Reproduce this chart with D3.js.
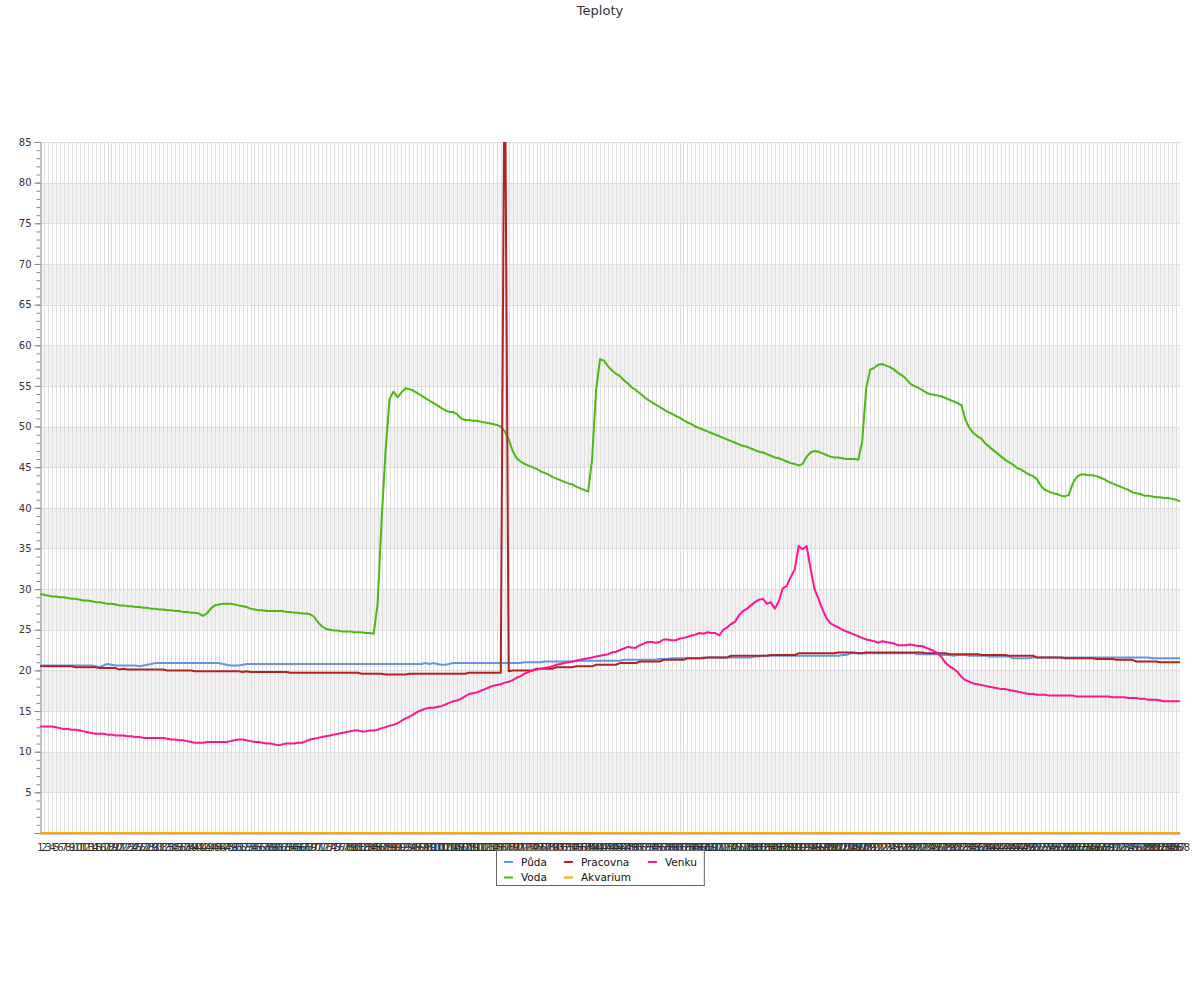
<!DOCTYPE html>
<html><head><meta charset="utf-8">
<script src="https://cdn.jsdelivr.net/npm/d3@7"></script>
<style>body{margin:0;background:#fff;}svg{display:block;font-family:"DejaVu Sans",sans-serif;}</style>
</head><body><svg id="c" width="1200" height="1000"></svg>
<script>
const title = "Teploty";
const categories = d3.range(1, 289).map(String);
const yTickValues = [0,5,10,15,20,25,30,35,40,45,50,55,60,65,70,75,80,85];

const puda = [
20.6,20.6,20.6,20.6,20.6,20.6,20.6,20.6,20.6,20.6,20.6,20.6,
20.6,20.6,20.5,20.4,20.6,20.8,20.7,20.6,20.6,20.6,20.6,20.6,
20.6,20.5,20.6,20.7,20.8,20.9,20.9,20.9,20.9,20.9,20.9,20.9,
20.9,20.9,20.9,20.9,20.9,20.9,20.9,20.9,20.9,20.9,20.8,20.7,
20.6,20.6,20.6,20.7,20.8,20.8,20.8,20.8,20.8,20.8,20.8,20.8,
20.8,20.8,20.8,20.8,20.8,20.8,20.8,20.8,20.8,20.8,20.8,20.8,
20.8,20.8,20.8,20.8,20.8,20.8,20.8,20.8,20.8,20.8,20.8,20.8,
20.8,20.8,20.8,20.8,20.8,20.8,20.8,20.8,20.8,20.8,20.8,20.8,
20.8,20.9,20.8,20.9,20.8,20.7,20.7,20.8,20.9,20.9,20.9,20.9,
20.9,20.9,20.9,20.9,20.9,20.9,20.9,20.9,20.9,20.9,20.9,20.9,
20.9,20.9,21.0,21.0,21.0,21.0,21.0,21.1,21.1,21.1,21.1,21.1,
21.1,21.1,21.1,21.2,21.2,21.2,21.2,21.2,21.2,21.2,21.2,21.2,
21.2,21.2,21.2,21.3,21.3,21.3,21.3,21.3,21.3,21.3,21.3,21.3,
21.4,21.4,21.4,21.5,21.5,21.5,21.5,21.5,21.5,21.5,21.5,21.6,
21.6,21.6,21.6,21.6,21.6,21.6,21.6,21.6,21.6,21.6,21.6,21.6,
21.7,21.7,21.8,21.8,21.8,21.8,21.8,21.8,21.8,21.8,21.8,21.8,
21.8,21.8,21.8,21.8,21.8,21.8,21.8,21.8,21.8,21.8,21.9,21.9,
22.1,22.1,22.1,22.1,22.1,22.1,22.1,22.1,22.1,22.1,22.1,22.1,
22.1,22.1,22.1,22.1,22.1,22.0,22.0,22.0,22.0,22.0,22.0,21.9,
21.9,21.9,21.8,21.9,21.9,21.9,21.8,21.8,21.8,21.8,21.8,21.7,
21.7,21.7,21.7,21.7,21.7,21.5,21.5,21.5,21.5,21.5,21.6,21.6,
21.6,21.6,21.6,21.6,21.6,21.6,21.6,21.6,21.6,21.6,21.6,21.6,
21.6,21.6,21.6,21.6,21.6,21.6,21.6,21.6,21.6,21.6,21.6,21.6,
21.6,21.6,21.6,21.6,21.5,21.5,21.5,21.5,21.5,21.5,21.5,21.5
];

const voda = [
29.4,29.3,29.2,29.1,29.1,29.0,29.0,28.9,28.8,28.8,28.7,28.6,
28.6,28.5,28.4,28.4,28.3,28.2,28.2,28.1,28.0,28.0,27.9,27.9,
27.8,27.8,27.7,27.7,27.6,27.6,27.5,27.5,27.4,27.4,27.3,27.3,
27.2,27.2,27.1,27.1,27.0,26.7,27.0,27.6,28.0,28.1,28.2,28.2,
28.2,28.1,28.0,27.9,27.8,27.6,27.5,27.4,27.4,27.3,27.3,27.3,
27.3,27.3,27.2,27.2,27.1,27.1,27.0,27.0,26.9,26.6,25.9,25.4,
25.1,25.0,24.9,24.9,24.8,24.8,24.8,24.7,24.7,24.7,24.6,24.6,
24.5,28.2,38.5,47.0,53.4,54.3,53.6,54.2,54.7,54.6,54.4,54.1,
53.8,53.5,53.2,52.9,52.6,52.3,52.0,51.8,51.8,51.5,51.0,50.8,
50.8,50.7,50.7,50.6,50.5,50.4,50.3,50.2,50.0,49.4,48.4,47.0,
46.1,45.7,45.4,45.2,45.0,44.8,44.5,44.3,44.1,43.8,43.6,43.4,
43.2,43.0,42.9,42.6,42.4,42.2,42.0,46.0,54.5,58.3,58.1,57.4,
56.9,56.5,56.2,55.7,55.3,54.8,54.5,54.1,53.7,53.3,53.0,52.7,
52.4,52.1,51.8,51.6,51.3,51.1,50.8,50.5,50.3,50.0,49.8,49.6,
49.4,49.2,49.0,48.8,48.6,48.4,48.2,48.0,47.8,47.6,47.5,47.3,
47.1,46.9,46.8,46.6,46.4,46.2,46.1,45.9,45.7,45.5,45.4,45.2,
45.4,46.3,46.8,47.0,46.9,46.7,46.5,46.3,46.2,46.2,46.1,46.0,
46.0,46.0,45.9,48.2,54.7,57.0,57.2,57.6,57.7,57.5,57.3,57.0,
56.6,56.3,55.9,55.3,55.0,54.8,54.5,54.2,54.0,53.9,53.8,53.7,
53.5,53.3,53.1,52.9,52.6,50.8,49.8,49.2,48.8,48.5,47.9,47.5,
47.1,46.7,46.3,45.9,45.6,45.3,44.9,44.7,44.4,44.1,43.9,43.5,
42.7,42.2,42.0,41.8,41.7,41.5,41.4,41.6,43.0,43.8,44.1,44.1,
44.0,44.0,43.9,43.7,43.5,43.2,43.0,42.8,42.6,42.4,42.2,41.9,
41.8,41.7,41.5,41.5,41.4,41.3,41.3,41.2,41.2,41.1,41.0,40.8
];

const pracovna = [
20.5,20.5,20.5,20.5,20.5,20.5,20.5,20.5,20.5,20.4,20.4,20.4,
20.4,20.4,20.4,20.3,20.3,20.3,20.3,20.3,20.1,20.2,20.1,20.1,
20.1,20.1,20.1,20.1,20.1,20.1,20.1,20.1,20.0,20.0,20.0,20.0,
20.0,20.0,20.0,19.9,19.9,19.9,19.9,19.9,19.9,19.9,19.9,19.9,
19.9,19.9,19.9,19.8,19.9,19.8,19.8,19.8,19.8,19.8,19.8,19.8,
19.8,19.8,19.8,19.7,19.7,19.7,19.7,19.7,19.7,19.7,19.7,19.7,
19.7,19.7,19.7,19.7,19.7,19.7,19.7,19.7,19.7,19.6,19.6,19.6,
19.6,19.6,19.6,19.5,19.5,19.5,19.5,19.5,19.5,19.6,19.6,19.6,
19.6,19.6,19.6,19.6,19.6,19.6,19.6,19.6,19.6,19.6,19.6,19.6,
19.7,19.7,19.7,19.7,19.7,19.7,19.7,19.7,19.7,100,19.9,20.0,
20.0,20.0,20.0,20.0,20.0,20.2,20.2,20.2,20.2,20.2,20.4,20.4,
20.4,20.4,20.4,20.5,20.5,20.5,20.5,20.5,20.7,20.7,20.7,20.7,
20.7,20.7,20.9,20.9,20.9,20.9,20.9,21.1,21.1,21.1,21.1,21.1,
21.1,21.3,21.3,21.3,21.3,21.3,21.3,21.5,21.5,21.5,21.5,21.5,
21.6,21.6,21.6,21.6,21.6,21.6,21.8,21.8,21.8,21.8,21.8,21.8,
21.8,21.8,21.8,21.8,21.9,21.9,21.9,21.9,21.9,21.9,21.9,22.1,
22.1,22.1,22.1,22.1,22.1,22.1,22.1,22.1,22.1,22.2,22.2,22.2,
22.2,22.2,22.1,22.1,22.2,22.2,22.2,22.2,22.2,22.2,22.2,22.2,
22.2,22.2,22.2,22.2,22.2,22.2,22.2,22.1,22.1,22.1,22.1,22.1,
22.1,22.0,22.0,22.0,22.0,22.0,22.0,22.0,22.0,21.9,21.9,21.9,
21.9,21.9,21.9,21.9,21.8,21.8,21.8,21.8,21.8,21.8,21.8,21.6,
21.6,21.6,21.6,21.6,21.6,21.6,21.5,21.5,21.5,21.5,21.5,21.5,
21.5,21.5,21.4,21.4,21.4,21.4,21.4,21.3,21.3,21.3,21.3,21.3,
21.1,21.1,21.1,21.1,21.1,21.1,21.0,21.0,21.0,21.0,21.0,21.0
];

const akvarium = [
0,0,0,0,0,0,0,0,0,0,0,0, 0,0,0,0,0,0,0,0,0,0,0,0,
0,0,0,0,0,0,0,0,0,0,0,0, 0,0,0,0,0,0,0,0,0,0,0,0,
0,0,0,0,0,0,0,0,0,0,0,0, 0,0,0,0,0,0,0,0,0,0,0,0,
0,0,0,0,0,0,0,0,0,0,0,0, 0,0,0,0,0,0,0,0,0,0,0,0,
0,0,0,0,0,0,0,0,0,0,0,0, 0,0,0,0,0,0,0,0,0,0,0,0,
0,0,0,0,0,0,0,0,0,0,0,0, 0,0,0,0,0,0,0,0,0,0,0,0,
0,0,0,0,0,0,0,0,0,0,0,0, 0,0,0,0,0,0,0,0,0,0,0,0,
0,0,0,0,0,0,0,0,0,0,0,0, 0,0,0,0,0,0,0,0,0,0,0,0,
0,0,0,0,0,0,0,0,0,0,0,0, 0,0,0,0,0,0,0,0,0,0,0,0,
0,0,0,0,0,0,0,0,0,0,0,0, 0,0,0,0,0,0,0,0,0,0,0,0,
0,0,0,0,0,0,0,0,0,0,0,0, 0,0,0,0,0,0,0,0,0,0,0,0,
0,0,0,0,0,0,0,0,0,0,0,0, 0,0,0,0,0,0,0,0,0,0,0,0
];

const venku = [
13.1,13.1,13.1,13.1,13.0,12.9,12.8,12.8,12.7,12.7,12.6,12.5,
12.4,12.3,12.2,12.2,12.2,12.1,12.1,12.0,12.0,12.0,11.9,11.9,
11.8,11.8,11.7,11.7,11.7,11.7,11.7,11.7,11.6,11.5,11.5,11.4,
11.4,11.3,11.2,11.1,11.1,11.1,11.2,11.2,11.2,11.2,11.2,11.2,
11.3,11.4,11.5,11.5,11.4,11.3,11.2,11.2,11.1,11.0,11.0,10.9,
10.8,10.9,11.0,11.0,11.0,11.1,11.1,11.3,11.5,11.6,11.7,11.8,
11.9,12.0,12.1,12.2,12.3,12.4,12.5,12.6,12.6,12.5,12.5,12.6,
12.6,12.7,12.9,13.0,13.2,13.3,13.5,13.8,14.1,14.3,14.6,14.9,
15.1,15.3,15.4,15.4,15.5,15.6,15.8,16.0,16.2,16.3,16.5,16.8,
17.1,17.2,17.3,17.5,17.7,17.9,18.1,18.2,18.3,18.5,18.6,18.8,
19.1,19.3,19.6,19.8,20.0,20.1,20.2,20.3,20.4,20.5,20.7,20.8,
20.9,21.0,21.1,21.2,21.3,21.4,21.5,21.6,21.7,21.8,21.9,22.0,
22.2,22.3,22.5,22.7,22.9,22.8,22.8,23.1,23.3,23.5,23.5,23.4,
23.5,23.8,23.8,23.7,23.7,23.9,24.0,24.1,24.3,24.4,24.6,24.5,
24.7,24.6,24.6,24.3,25.0,25.3,25.7,26.0,26.8,27.3,27.6,28.0,
28.4,28.7,28.8,28.2,28.4,27.6,28.5,30.1,30.4,31.5,32.4,35.3,
34.9,35.3,32.5,30.0,28.8,27.5,26.4,25.8,25.5,25.3,25.0,24.8,
24.6,24.4,24.2,24.0,23.8,23.7,23.6,23.4,23.6,23.5,23.4,23.3,
23.1,23.1,23.1,23.2,23.1,23.0,23.0,22.8,22.6,22.4,22.1,21.6,
20.9,20.5,20.2,19.8,19.2,18.8,18.6,18.4,18.3,18.2,18.1,18.0,
17.9,17.8,17.7,17.7,17.6,17.5,17.4,17.3,17.2,17.1,17.1,17.0,
17.0,17.0,16.9,16.9,16.9,16.9,16.9,16.9,16.9,16.8,16.8,16.8,
16.8,16.8,16.8,16.8,16.8,16.8,16.7,16.7,16.7,16.7,16.6,16.6,
16.6,16.5,16.5,16.4,16.4,16.4,16.3,16.2,16.2,16.2,16.2,16.2
];

const seriesNames = ["Půda", "Voda", "Pracovna", "Akvarium", "Venku"];
const seriesColors = ["#6495ed", "#4cb814", "#b22222", "#ffa500", "#ff1493"];
const seriesValues = [puda, voda, pracovna, akvarium, venku];

seriesValues.forEach((s, k) => { if (s.length !== categories.length) throw new Error(seriesNames[k] + " length " + s.length); });

const svg = d3.select("#c");
const L = 40, R = 1180, T = 142, B = 833;
const x = d3.scalePoint().domain(categories).range([L, R]);
const y = d3.scaleLinear().domain([0, 85]).range([B, T]);

// title
svg.append("text").attr("x", 600).attr("y", 15).attr("text-anchor", "middle")
  .attr("font-size", 13).attr("fill", "#333").text(title);

// alternating bands
const bands = d3.range(0, 85, 5).filter(v => (v / 5) % 2 === 1);
svg.append("g").selectAll("rect").data(bands).join("rect")
  .attr("x", L).attr("width", R - L)
  .attr("y", d => y(d + 5)).attr("height", d => y(d) - y(d + 5))
  .attr("fill", "#f2f2f2");

// vertical grid
svg.append("g").selectAll("line").data(categories.slice(1, -1)).join("line")
  .attr("x1", d => Math.round(x(d)) + 0.5).attr("x2", d => Math.round(x(d)) + 0.5)
  .attr("y1", T).attr("y2", B)
  .attr("stroke", "#dedede").attr("stroke-width", 1);

// horizontal grid
svg.append("g").selectAll("line").data(yTickValues.filter(v => v > 0)).join("line")
  .attr("x1", L).attr("x2", R)
  .attr("y1", d => Math.round(y(d)) + 0.5).attr("y2", d => Math.round(y(d)) + 0.5)
  .attr("stroke", "#dedede").attr("stroke-width", 1);

// y axis minor ticks
const yMinor = svg.append("g").attr("transform", `translate(${L + 0.5},0)`)
  .call(d3.axisLeft(y).tickValues(d3.range(0, 86, 1)).tickSize(4).tickFormat(""));
yMinor.select(".domain").remove();
yMinor.selectAll("line").attr("stroke", "#888");

// y axis major
const yAx = svg.append("g").attr("transform", `translate(${L + 0.5},0)`)
  .call(d3.axisLeft(y).tickValues(yTickValues).tickSize(6).tickPadding(3)
    .tickFormat(d => d === 0 ? "" : d));
yAx.select(".domain").attr("stroke", "#888");
yAx.selectAll("line").attr("stroke", "#888");
yAx.selectAll("text").attr("font-size", 10).attr("fill", "#333").attr("font-family", "DejaVu Sans");

// x axis
const xAx = svg.append("g").attr("transform", `translate(0,${B + 0.5})`)
  .call(d3.axisBottom(x).tickSizeInner(0).tickSizeOuter(0).tickPadding(10));
xAx.select(".domain").attr("stroke", "#888");
xAx.selectAll("text").attr("font-size", 10).attr("fill", "#333").attr("font-family", "DejaVu Sans");

// clip
svg.append("clipPath").attr("id", "plotclip").append("rect")
  .attr("x", L).attr("y", T).attr("width", R - L).attr("height", B - T + 2);

const line = d3.line().x((d, i) => x(categories[i])).y(d => y(d));
const lines = svg.append("g").attr("clip-path", "url(#plotclip)");
seriesValues.forEach((s, k) => {
  lines.append("path").datum(s).attr("d", line)
    .attr("fill", "none").attr("stroke", seriesColors[k]).attr("stroke-width", 2)
    .attr("stroke-linejoin", "round");
});

// legend: 2 rows, column-major
const rows = 2, pad = 7.5, swLen = 9, txtOff = 17, colGap = 17, rowH = 15.5;
const leg = svg.append("g");
const measure = leg.append("text").attr("font-size", 10.5);
const widths = seriesNames.map(n => { measure.text(n); return measure.node().getComputedTextLength(); });
measure.remove();
const nCols = Math.ceil(seriesNames.length / rows);
const colW = d3.range(nCols).map(c => d3.max(seriesNames.map((n, i) => Math.floor(i / rows) === c ? widths[i] : 0)));
const colX = [];
let acc = pad;
colW.forEach((w, c) => { colX.push(acc); acc += txtOff + w + (c < nCols - 1 ? colGap : 0); });
const totalW = acc + pad;
const boxX = Math.round(600 - totalW / 2) + 0.5, boxY = 850.5;
leg.append("rect").attr("x", boxX).attr("y", boxY).attr("width", totalW).attr("height", 35)
  .attr("fill", "#fff").attr("stroke", "#666").attr("stroke-width", 1);
seriesNames.forEach((n, i) => {
  const c = Math.floor(i / rows), r = i % rows;
  const gx = boxX + colX[c], gy = boxY + 11.5 + r * rowH;
  leg.append("line").attr("x1", gx).attr("x2", gx + swLen).attr("y1", gy).attr("y2", gy)
    .attr("stroke", seriesColors[i]).attr("stroke-width", 2);
  leg.append("text").attr("x", gx + txtOff).attr("y", gy).attr("dy", "0.35em")
    .attr("font-size", 10.5).attr("fill", "#111").text(n);
});
</script></body></html>
